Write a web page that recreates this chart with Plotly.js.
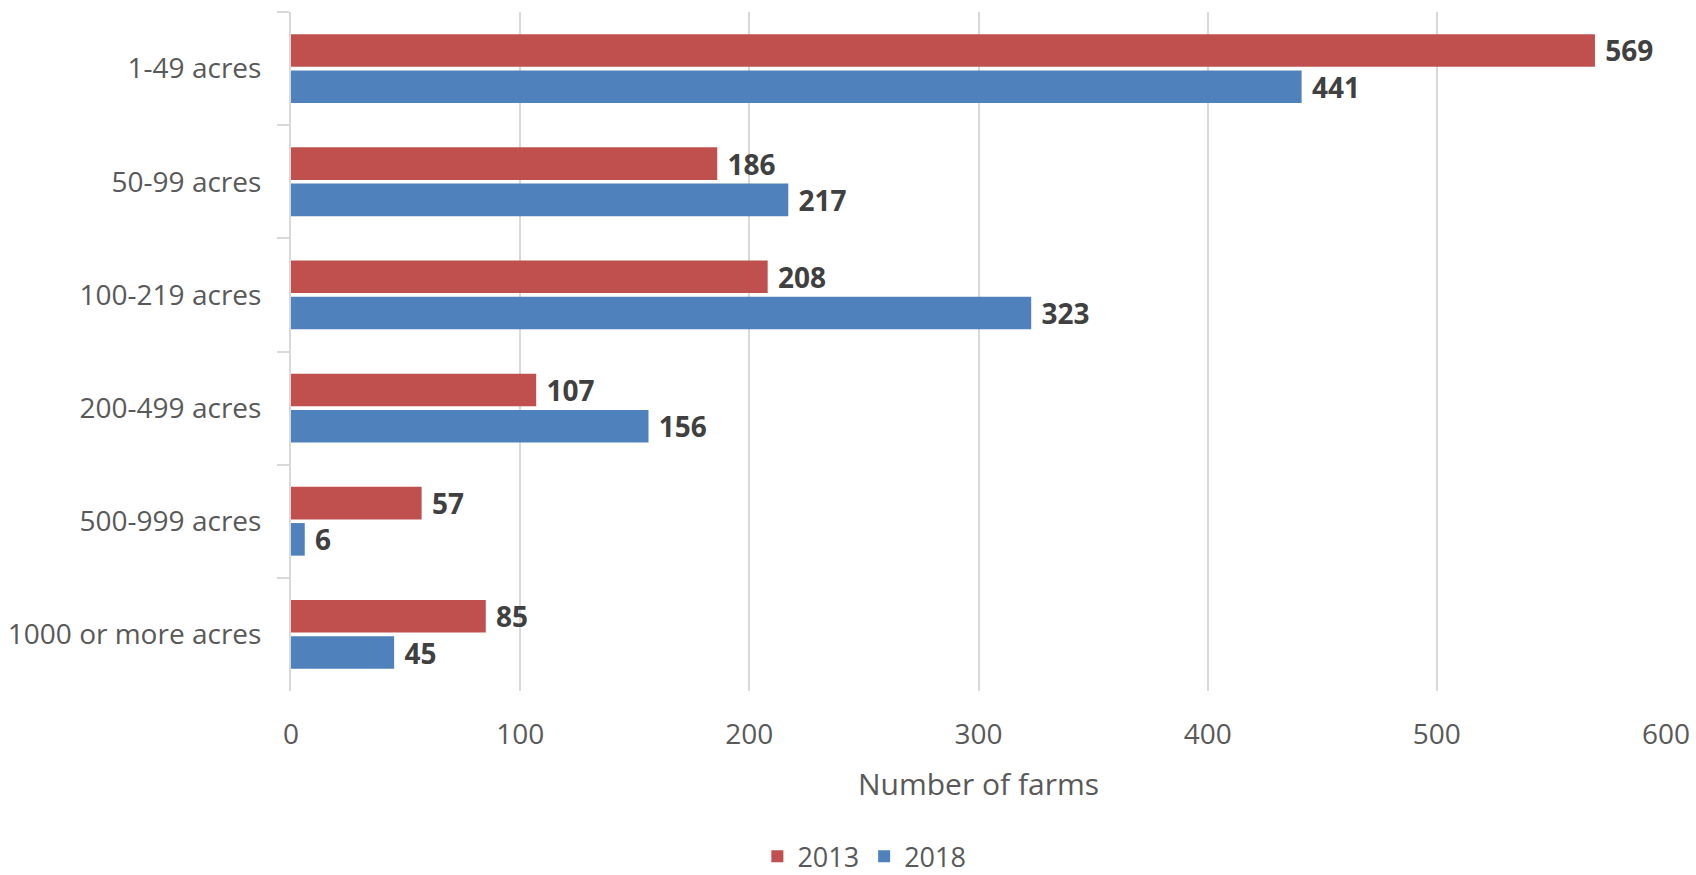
<!DOCTYPE html>
<html>
<head>
<meta charset="utf-8">
<script src="https://cdn.plot.ly/plotly-3.0.1.min.js"></script>
<style>html,body{margin:0;padding:0;background:#fff;}#chart{width:1696px;height:875px;}</style>
</head>
<body>
<div id="chart"></div>
<script>
const categories = ["1-49 acres", "50-99 acres", "100-219 acres", "200-499 acres", "500-999 acres", "1000 or more acres"];
const values2013 = [569, 186, 208, 107, 57, 85];
const values2018 = [441, 217, 323, 156, 6, 45];
const seriesNames = ["2013", "2018"];
const xTicks = [0, 100, 200, 300, 400, 500, 600];

const FONT = "Open Sans, Noto Sans, sans-serif";
const labelFont = {family: FONT, size: 28, color: "#404040", weight: "bold"};

function barTrace(name, vals, color) {
  return {
    type: "bar", orientation: "h", name: name,
    y: categories, x: vals,
    marker: {color: color},
    text: vals.map(v => String(v)),
    texttemplate: " %{text}",
    textposition: "outside",
    textfont: labelFont,
    cliponaxis: false,
    constraintext: "none",
    hoverinfo: "x+name"
  };
}

const data = [
  barTrace(seriesNames[0], values2013, "#C0504D"),
  barTrace(seriesNames[1], values2018, "#4F81BD")
];

const layout = {
  width: 1696, height: 875,
  margin: {l: 291, r: 30, t: 12, b: 184},
  paper_bgcolor: "#fff", plot_bgcolor: "#fff",
  barmode: "group", bargap: 0.36, bargroupgap: 0.1,
  font: {family: FONT, color: "#595959", size: 28},
  xaxis: {
    range: [0, 600], tickvals: xTicks, ticks: "",
    showgrid: true, gridcolor: "#D9D9D9", gridwidth: 2,
    zeroline: false, showline: false, automargin: false,
    tickfont: {family: FONT, size: 28, color: "#595959"},
    ticklabelstandoff: 24,
    title: {text: "Number of farms", font: {family: FONT, size: 30, color: "#595959"}, standoff: 22}
  },
  yaxis: {
    type: "category", autorange: "reversed", automargin: false,
    showline: true, linecolor: "#D9D9D9", linewidth: 2,
    ticks: "outside", tickson: "boundaries", ticklen: 12, tickcolor: "#D9D9D9", tickwidth: 2,
    showgrid: false,
    tickfont: {family: FONT, size: 28, color: "#595959"},
    ticklabelstandoff: 22
  },
  showlegend: true,
  legend: {
    orientation: "h", xref: "paper", x: 0.417, xanchor: "center",
    yref: "container", y: 0.021, yanchor: "middle",
    font: {family: FONT, size: 27, color: "#595959"},
    traceorder: "normal"
  }
};

Plotly.newPlot("chart", data, layout, {staticPlot: true, displayModeBar: false});
</script>
</body>
</html>
